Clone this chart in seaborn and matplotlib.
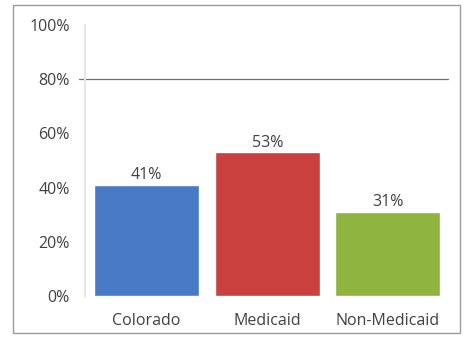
import matplotlib
matplotlib.use("Agg")
import matplotlib.pyplot as plt
import seaborn as sns
import pandas as pd
from matplotlib.patches import Rectangle

# --- data ---
categories = ["Colorado", "Medicaid", "Non-Medicaid"]
values = [0.41, 0.53, 0.31]
bar_colors = ["#4779C4", "#C9403E", "#8FB440"]
yticks = [0.0, 0.2, 0.4, 0.6, 0.8, 1.0]
ytick_labels = ["0%", "20%", "40%", "60%", "80%", "100%"]
target = 0.8

df = pd.DataFrame({"Group": categories, "Share": values})

sns.set_theme(style="white")
plt.rcParams["font.family"] = ["Open Sans", "DejaVu Sans"]

fig = plt.figure(figsize=(4.72, 3.37), dpi=100)
ax = fig.add_axes([0.18, 0.122, 0.78, 0.804])

sns.barplot(data=df, x="Group", y="Share", hue="Group", palette=bar_colors,
            width=0.87, legend=False, ax=ax, saturation=1)

ax.set_ylim(0, 1)
ax.set_xlim(-0.51, 2.54)
ax.set_yticks(yticks)
ax.set_yticklabels(ytick_labels)
ax.tick_params(axis="y", length=0, pad=11, labelsize=11.5, colors="#404040")
ax.tick_params(axis="x", length=0, pad=12, labelsize=11.5, colors="#404040")
ax.set_xlabel("")
ax.set_ylabel("")

for side in ["top", "right", "bottom"]:
    ax.spines[side].set_visible(False)
ax.spines["left"].set_color("#e6e6e6")
ax.spines["left"].set_linewidth(1.5)

# target line at 80%
ax.axhline(target, xmin=-0.015, xmax=0.985, color="#707070", lw=0.9, clip_on=False)

# value labels
for i, v in enumerate(values):
    ax.text(i, v + 0.006, f"{v * 100:.0f}%", ha="center", va="bottom",
            fontsize=11.5, color="#404040")

# outer frame
fig.patches.append(Rectangle((0.0275, 0.012), 0.947, 0.973, transform=fig.transFigure,
                             fill=False, edgecolor="#9a9a9a", lw=1.0))

fig.savefig("out.png", dpi=100)
